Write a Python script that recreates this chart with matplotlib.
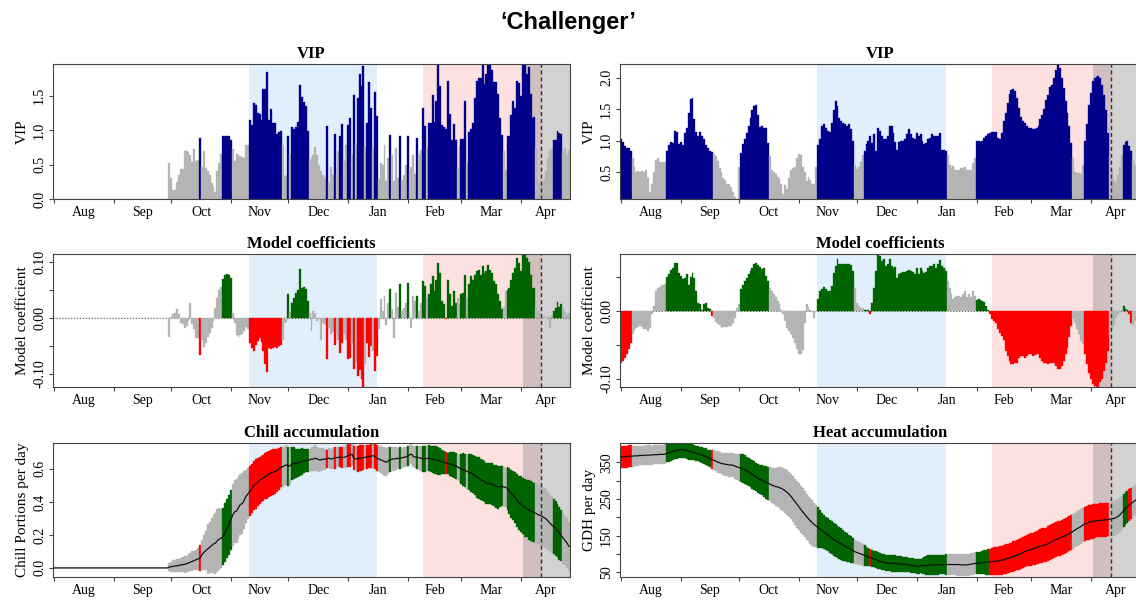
import numpy as np
import matplotlib
matplotlib.use("Agg")
import matplotlib.pyplot as plt

plt.rcParams["font.family"] = ["Liberation Serif", "DejaVu Serif"]

# Day 0 = 1 August, day 268 = 26 April
month_starts = [0, 31, 61, 92, 122, 153, 184, 212, 243]
month_names = ["Aug", "Sep", "Oct", "Nov", "Dec", "Jan", "Feb", "Mar", "Apr"]
last_day = 268

chill_phase = (101.5, 168.0)
heat_phase = (192.0, 253.3)
bloom_range = (244.0, 275.0)
mean_bloom = 253.3
vip_threshold = 0.8

# ---- chill model (left column); nothing before day 60 ----
vip_chill = [0.0] * 60 + [
    0.52, 0.30, 0.13, 0.13, 0.25, 0.35, 0.43, 0.43, 0.70, 0.70,
    0.68, 0.64, 0.54, 0.72, 0.55, 0.57, 0.89, 0.47, 0.69, 0.45,
    0.40, 0.35, 0.23, 0.18, 0.10, 0.40, 0.52, 0.65, 0.91, 0.92,
    0.92, 0.91, 0.85, 0.72, 0.55, 0.66, 0.64, 0.62, 0.61, 0.60,
    0.78, 0.78, 1.15, 1.08, 1.40, 1.37, 1.25, 1.24, 1.15, 1.59,
    1.60, 1.84, 1.15, 1.30, 1.10, 1.10, 0.95, 0.97, 0.98, 0.79,
    0.33, 0.35, 0.91, 0.66, 1.04, 1.02, 1.04, 1.12, 1.65, 1.48,
    1.41, 1.35, 0.98, 0.57, 0.60, 0.64, 0.76, 0.64, 0.50, 0.40,
    0.35, 0.30, 1.06, 0.25, 0.47, 0.35, 0.95, 0.37, 0.69, 0.92,
    1.09, 0.55, 0.79, 1.07, 1.17, 0.64, 1.51, 0.79, 1.47, 1.82,
    1.64, 1.93, 0.76, 1.10, 1.70, 1.32, 0.74, 1.55, 1.21, 0.29,
    0.52, 0.50, 0.78, 0.26, 0.59, 0.93, 0.64, 0.26, 0.74, 0.30,
    0.92, 0.28, 0.35, 0.50, 0.92, 0.39, 0.47, 0.64, 0.37, 0.88,
    0.66, 0.71, 1.32, 1.06, 0.74, 1.10, 1.10, 1.51, 1.12, 1.43,
    1.95, 1.64, 1.08, 1.04, 1.02, 1.71, 1.23, 0.86, 1.09, 0.85,
    0.45, 0.76, 0.87, 0.87, 1.43, 0.54, 0.97, 1.02, 1.10, 1.47,
    1.72, 1.75, 1.75, 1.94, 1.67, 1.81, 1.95, 1.95, 1.88, 1.70,
    1.70, 1.52, 1.17, 0.93, 0.69, 0.42, 0.92, 0.91, 1.22, 1.42,
    1.32, 1.72, 1.68, 1.49, 1.94, 1.95, 1.81, 1.91, 1.53, 1.17,
    1.19, 0.74, 0.25, 0.23, 0.23, 0.27, 0.40, 0.59, 0.69, 0.72,
    0.86, 0.85, 0.99, 0.96, 0.94, 0.69, 0.74, 0.64, 0.71,
]

coef_chill = [0.0] * 60 + [
    -0.035, 0.002, 0.006, 0.008, 0.015, 0.006, -0.009, -0.012, -0.018, -0.015,
    -0.005, 0.027, -0.012, -0.021, -0.036, -0.036, -0.067, -0.039, -0.052, -0.045,
    -0.035, -0.027, -0.018, -0.005, 0.018, 0.036, 0.050, 0.055, 0.070, 0.077,
    0.079, 0.076, 0.071, 0.008, -0.010, -0.031, -0.035, -0.031, -0.029, -0.024,
    -0.017, -0.020, -0.045, -0.054, -0.060, -0.048, -0.042, -0.037, -0.043, -0.060,
    -0.083, -0.098, -0.054, -0.056, -0.054, -0.052, -0.054, -0.051, -0.048, -0.040,
    -0.009, -0.007, 0.042, 0.010, 0.027, 0.036, 0.045, 0.049, 0.088, 0.054,
    0.055, 0.052, 0.030, 0.009, -0.024, 0.012, 0.009, -0.005, -0.003, -0.040,
    -0.009, -0.012, -0.073, -0.018, -0.030, -0.025, -0.048, -0.029, -0.039, -0.063,
    -0.045, -0.030, -0.040, -0.074, -0.072, -0.045, -0.091, -0.080, -0.104, -0.093,
    -0.110, -0.124, -0.083, -0.045, -0.071, -0.050, -0.060, -0.095, -0.069, -0.021,
    0.033, 0.012, 0.039, -0.013, 0.027, 0.051, 0.015, -0.036, 0.045, 0.020,
    0.061, 0.012, 0.018, 0.027, 0.063, 0.012, -0.018, 0.039, 0.030, 0.039,
    0.012, 0.027, 0.065, 0.057, 0.036, 0.043, 0.060, 0.074, 0.048, 0.068,
    0.098, 0.080, 0.030, 0.025, -0.003, 0.068, 0.042, 0.021, 0.048, 0.027,
    0.036, 0.024, 0.042, 0.045, 0.077, 0.036, 0.060, 0.074, 0.068, 0.077,
    0.083, 0.086, 0.077, 0.092, 0.080, 0.083, 0.095, 0.086, 0.080, 0.065,
    0.060, 0.042, 0.030, 0.015, 0.020, 0.048, 0.049, 0.054, 0.068, 0.080,
    0.089, 0.107, 0.098, 0.083, 0.112, 0.114, 0.107, 0.100, 0.077, 0.054,
    0.053, 0.019, 0.012, 0.009, 0.000, 0.003, -0.003, 0.002, -0.018, 0.004,
    0.012, 0.018, 0.028, 0.020, 0.025, 0.015, 0.010, 0.005, 0.008,
]

chill_mean = [0.0] * 60 + [
    0.005, 0.008, 0.010, 0.012, 0.013, 0.015, 0.018, 0.020, 0.022, 0.025,
    0.030, 0.035, 0.040, 0.045, 0.050, 0.055, 0.060, 0.080, 0.095, 0.105,
    0.115, 0.125, 0.135, 0.145, 0.150, 0.165, 0.175, 0.180, 0.190, 0.215,
    0.240, 0.260, 0.290, 0.320, 0.340, 0.345, 0.365, 0.385, 0.390, 0.410,
    0.435, 0.450, 0.465, 0.480, 0.500, 0.510, 0.520, 0.530, 0.540, 0.545,
    0.555, 0.560, 0.570, 0.575, 0.580, 0.585, 0.590, 0.600, 0.610, 0.612,
    0.620, 0.625, 0.615, 0.620, 0.630, 0.635, 0.632, 0.638, 0.640, 0.645,
    0.648, 0.650, 0.652, 0.655, 0.660, 0.660, 0.665, 0.660, 0.655, 0.655,
    0.660, 0.658, 0.662, 0.665, 0.660, 0.662, 0.665, 0.668, 0.670, 0.672,
    0.668, 0.670, 0.675, 0.680, 0.683, 0.690, 0.665, 0.660, 0.662, 0.665,
    0.665, 0.668, 0.670, 0.672, 0.675, 0.678, 0.680, 0.675, 0.665, 0.660,
    0.655, 0.650, 0.645, 0.640, 0.650, 0.655, 0.660, 0.660, 0.663, 0.663,
    0.665, 0.667, 0.670, 0.673, 0.678, 0.685, 0.690, 0.675, 0.672, 0.670,
    0.668, 0.665, 0.660, 0.662, 0.663, 0.665, 0.660, 0.658, 0.655, 0.655,
    0.650, 0.645, 0.642, 0.640, 0.635, 0.632, 0.630, 0.628, 0.622, 0.618,
    0.612, 0.605, 0.600, 0.595, 0.590, 0.585, 0.580, 0.575, 0.568, 0.560,
    0.550, 0.545, 0.535, 0.530, 0.525, 0.512, 0.510, 0.512, 0.508, 0.500,
    0.495, 0.490, 0.492, 0.495, 0.490, 0.490, 0.480, 0.465, 0.450, 0.440,
    0.425, 0.410, 0.395, 0.385, 0.375, 0.365, 0.360, 0.352, 0.345, 0.340,
    0.335, 0.330, 0.322, 0.318, 0.312, 0.305, 0.298, 0.285, 0.272, 0.260,
    0.250, 0.240, 0.225, 0.210, 0.195, 0.180, 0.165, 0.150, 0.130,
]

chill_sd = [0.0] * 60 + [
    0.025, 0.030, 0.035, 0.035, 0.040, 0.040, 0.045, 0.045, 0.050, 0.050,
    0.055, 0.055, 0.060, 0.060, 0.060, 0.065, 0.080, 0.090, 0.105, 0.120,
    0.150, 0.155, 0.165, 0.175, 0.185, 0.190, 0.190, 0.180, 0.175, 0.180,
    0.180, 0.180, 0.180, 0.190, 0.190, 0.195, 0.190, 0.185, 0.185, 0.175,
    0.160, 0.155, 0.150, 0.150, 0.150, 0.150, 0.145, 0.140, 0.140, 0.140,
    0.140, 0.140, 0.140, 0.140, 0.140, 0.135, 0.130, 0.125, 0.120, 0.120,
    0.120, 0.120, 0.118, 0.115, 0.100, 0.095, 0.090, 0.085, 0.080, 0.080,
    0.075, 0.070, 0.070, 0.068, 0.070, 0.075, 0.077, 0.075, 0.072, 0.070,
    0.068, 0.065, 0.055, 0.060, 0.062, 0.065, 0.068, 0.065, 0.060, 0.060,
    0.062, 0.065, 0.068, 0.070, 0.070, 0.065, 0.072, 0.075, 0.078, 0.080,
    0.080, 0.075, 0.072, 0.070, 0.070, 0.070, 0.072, 0.075, 0.078, 0.080,
    0.082, 0.085, 0.085, 0.085, 0.080, 0.075, 0.072, 0.070, 0.068, 0.065,
    0.065, 0.062, 0.060, 0.060, 0.060, 0.060, 0.062, 0.065, 0.068, 0.070,
    0.072, 0.075, 0.076, 0.078, 0.078, 0.080, 0.080, 0.082, 0.085, 0.085,
    0.085, 0.080, 0.075, 0.070, 0.065, 0.065, 0.070, 0.075, 0.078, 0.080,
    0.080, 0.085, 0.090, 0.100, 0.100, 0.105, 0.110, 0.115, 0.115, 0.120,
    0.125, 0.125, 0.125, 0.125, 0.125, 0.125, 0.125, 0.125, 0.125, 0.125,
    0.130, 0.130, 0.125, 0.120, 0.120, 0.118, 0.130, 0.140, 0.145, 0.150,
    0.155, 0.160, 0.165, 0.170, 0.170, 0.175, 0.175, 0.180, 0.180, 0.180,
    0.180, 0.180, 0.180, 0.180, 0.180, 0.180, 0.180, 0.175, 0.170, 0.170,
    0.165, 0.165, 0.160, 0.160, 0.155, 0.155, 0.150, 0.150, 0.150,
]

# ---- heat model (right column) ----
vip_heat = [
    1.02, 0.98, 0.91, 0.89, 0.88, 0.84, 0.72, 0.59, 0.51, 0.52,
    0.50, 0.52, 0.50, 0.54, 0.41, 0.19, 0.32, 0.50, 0.70, 0.73,
    0.67, 0.66, 0.66, 0.67, 0.83, 0.93, 0.98, 0.96, 1.16, 1.14,
    0.95, 0.98, 0.93, 1.12, 1.21, 1.44, 1.67, 1.68, 1.34, 1.14,
    1.08, 1.14, 1.07, 1.02, 0.94, 0.88, 0.84, 0.82, 0.79, 0.75,
    0.68, 0.56, 0.50, 0.40, 0.38, 0.32, 0.31, 0.26, 0.19, 0.10,
    0.074, 0.59, 0.81, 0.95, 1.02, 1.12, 1.23, 1.36, 1.49, 1.56,
    1.57, 1.41, 1.22, 1.23, 1.21, 1.20, 0.96, 0.75, 0.54, 0.51,
    0.47, 0.43, 0.39, 0.32, 0.16, 0.30, 0.24, 0.41, 0.54, 0.57,
    0.59, 0.73, 0.79, 0.78, 0.59, 0.51, 0.36, 0.43, 0.38, 0.32,
    0.32, 0.59, 0.94, 1.02, 1.23, 1.26, 1.21, 1.15, 1.14, 1.28,
    1.49, 1.63, 1.55, 1.36, 1.32, 1.28, 1.26, 1.23, 1.26, 1.18,
    1.00, 0.62, 0.55, 0.59, 0.66, 0.78, 0.84, 0.95, 1.00, 1.07,
    0.96, 1.10, 0.83, 1.20, 1.16, 1.07, 1.02, 1.03, 1.07, 1.23,
    1.24, 1.12, 0.98, 0.86, 0.98, 1.00, 1.00, 1.02, 1.11, 1.18,
    1.10, 1.04, 1.02, 1.12, 1.07, 1.11, 1.00, 0.95, 0.96, 1.02,
    1.04, 1.10, 1.07, 1.07, 1.07, 1.12, 0.86, 0.86, 0.84, 0.78,
    0.62, 0.57, 0.60, 0.54, 0.54, 0.54, 0.56, 0.56, 0.59, 0.54,
    0.54, 0.54, 0.64, 0.72, 1.00, 1.00, 0.98, 1.00, 1.04, 1.07,
    1.10, 1.12, 1.14, 1.14, 1.14, 1.05, 1.02, 1.12, 1.31, 1.44,
    1.60, 1.74, 1.81, 1.83, 1.79, 1.68, 1.52, 1.37, 1.32, 1.28,
    1.23, 1.21, 1.21, 1.19, 1.19, 1.21, 1.23, 1.35, 1.41, 1.50,
    1.65, 1.73, 1.85, 1.89, 2.00, 2.13, 2.21, 2.15, 2.00, 1.84,
    1.63, 1.44, 1.23, 0.96, 0.72, 0.50, 0.48, 0.48, 0.47, 0.62,
    0.99, 1.26, 1.57, 1.76, 1.95, 1.99, 2.01, 2.03, 2.00, 1.89,
    1.73, 1.49, 1.12, 0.75, 0.54, 0.38, 0.35, 0.46, 0.59, 0.78,
    0.93, 0.98, 1.00, 0.91, 0.83, 0.70, 0.62, 0.55, 0.50,
]

coef_heat = [
    -0.076, -0.073, -0.069, -0.064, -0.056, -0.047, -0.034, -0.028, -0.025, -0.024,
    -0.022, -0.024, -0.027, -0.026, -0.029, -0.025, -0.005, 0.007, 0.029, 0.034,
    0.036, 0.038, 0.039, 0.040, 0.050, 0.055, 0.061, 0.064, 0.071, 0.071,
    0.056, 0.051, 0.047, 0.049, 0.054, 0.039, 0.050, 0.056, 0.049, 0.029,
    0.012, 0.011, 0.002, 0.010, 0.012, 0.005, 0.003, -0.007, -0.010, -0.016,
    -0.019, -0.021, -0.025, -0.024, -0.023, -0.024, -0.022, -0.022, -0.018, -0.010,
    0.004, 0.010, 0.032, 0.039, 0.044, 0.049, 0.055, 0.059, 0.063, 0.069,
    0.071, 0.068, 0.065, 0.062, 0.063, 0.051, 0.044, 0.034, 0.030, 0.025,
    0.020, 0.015, 0.010, 0.002, -0.005, -0.015, -0.025, -0.030, -0.034, -0.040,
    -0.047, -0.056, -0.064, -0.064, -0.058, -0.017, 0.010, 0.006, 0.002, -0.002,
    -0.010, -0.002, 0.017, 0.029, 0.032, 0.035, 0.032, 0.029, 0.029, 0.037,
    0.056, 0.066, 0.076, 0.070, 0.069, 0.069, 0.069, 0.069, 0.069, 0.068,
    0.059, 0.034, 0.012, 0.008, 0.005, 0.005, 0.002, 0.002, 0.001, -0.004,
    0.012, 0.034, 0.059, 0.084, 0.081, 0.074, 0.076, 0.066, 0.069, 0.077,
    0.066, 0.064, 0.065, 0.049, 0.055, 0.056, 0.057, 0.058, 0.059, 0.061,
    0.059, 0.058, 0.054, 0.063, 0.055, 0.064, 0.059, 0.056, 0.058, 0.064,
    0.066, 0.066, 0.069, 0.064, 0.069, 0.075, 0.066, 0.063, 0.059, 0.044,
    0.034, 0.025, 0.017, 0.020, 0.022, 0.022, 0.020, 0.025, 0.030, 0.021,
    0.025, 0.020, 0.029, 0.022, 0.016, 0.017, 0.016, 0.015, 0.014, 0.007,
    0.001, -0.005, -0.012, -0.014, -0.017, -0.027, -0.032, -0.037, -0.042, -0.059,
    -0.066, -0.074, -0.078, -0.078, -0.076, -0.076, -0.069, -0.066, -0.066, -0.069,
    -0.066, -0.064, -0.064, -0.066, -0.065, -0.063, -0.064, -0.069, -0.074, -0.076,
    -0.077, -0.078, -0.076, -0.076, -0.076, -0.081, -0.086, -0.086, -0.081, -0.074,
    -0.064, -0.054, -0.039, -0.022, -0.012, -0.017, -0.027, -0.034, -0.044, -0.049,
    -0.064, -0.078, -0.091, -0.100, -0.108, -0.110, -0.112, -0.112, -0.105, -0.100,
    -0.088, -0.076, -0.059, -0.039, -0.027, -0.020, -0.010, -0.005, -0.002, 0.000,
    0.007, 0.003, 0.002, -0.005, -0.017, -0.020, -0.015, -0.013, -0.012,
]

heat_mean = [
    365, 365, 366, 366, 367, 367, 367, 368, 368, 368,
    369, 369, 369, 370, 370, 370, 370, 371, 371, 371,
    372, 372, 372, 373, 375, 377, 378, 380, 382, 383,
    384, 385, 385, 384, 383, 381, 380, 378, 377, 375,
    374, 372, 370, 368, 366, 363, 361, 358, 356, 354,
    351, 349, 347, 346, 345, 344, 343, 343, 342, 340,
    338, 336, 334, 333, 330, 327, 324, 321, 317, 314,
    310, 306, 303, 301, 298, 295, 293, 291, 288, 286,
    284, 283, 281, 279, 276, 272, 268, 263, 257, 250,
    243, 236, 229, 222, 215, 209, 202, 196, 190, 185,
    180, 176, 172, 168, 164, 160, 156, 152, 148, 144,
    140, 136, 133, 130, 127, 124, 121, 118, 115, 112,
    109, 106, 104, 102, 100, 98, 96, 94, 92, 90,
    88, 86, 84, 82, 80, 78, 77, 76, 75, 75,
    74, 74, 74, 73, 73, 72, 72, 71, 71, 70,
    69, 68, 67, 66, 66, 67, 68, 68, 68, 69,
    69, 70, 70, 70, 70, 71, 71, 71, 71, 71,
    71, 71, 71, 71, 71, 71, 70, 70, 70, 70,
    71, 72, 73, 74, 74, 75, 75, 76, 77, 77,
    78, 78, 79, 80, 80, 81, 82, 83, 84, 86,
    88, 89, 91, 93, 95, 97, 99, 101, 104, 107,
    109, 110, 112, 114, 116, 118, 119, 121, 123, 124,
    125, 128, 131, 134, 137, 139, 141, 143, 146, 148,
    150, 153, 156, 159, 162, 166, 169, 172, 175, 179,
    182, 184, 186, 188, 189, 190, 191, 191, 192, 192,
    193, 193, 194, 195, 196, 197, 199, 202, 206, 212,
    218, 224, 229, 234, 238, 242, 246, 250, 255,
]

heat_sd = [
    30, 30, 30, 30, 30, 30, 29, 28, 28, 28,
    27, 27, 27, 27, 27, 27, 26, 26, 26, 26,
    26, 26, 26, 26, 25, 25, 24, 24, 24, 24,
    23, 23, 23, 23, 24, 24, 23, 22, 21, 21,
    21, 21, 22, 22, 22, 22, 23, 25, 27, 28,
    29, 29, 30, 31, 32, 32, 32, 32, 33, 34,
    35, 36, 38, 39, 39, 39, 39, 39, 39, 39,
    39, 40, 40, 41, 43, 44, 45, 46, 48, 50,
    52, 54, 56, 58, 59, 60, 61, 62, 62, 63,
    63, 64, 64, 64, 64, 63, 63, 62, 62, 62,
    60, 58, 55, 52, 48, 46, 46, 45, 45, 45,
    45, 45, 44, 44, 44, 42, 40, 40, 38, 36,
    34, 33, 32, 31, 30, 30, 28, 26, 25, 24,
    23, 23, 23, 22, 22, 22, 22, 22, 22, 22,
    22, 22, 22, 21, 21, 21, 20, 20, 20, 20,
    20, 20, 20, 20, 20, 20, 22, 24, 26, 27,
    27, 27, 27, 27, 27, 27, 27, 27, 28, 28,
    28, 28, 29, 29, 30, 30, 30, 31, 31, 31,
    30, 30, 30, 30, 30, 31, 31, 32, 33, 34,
    35, 36, 37, 38, 38, 39, 39, 40, 40, 40,
    40, 40, 40, 41, 41, 42, 42, 42, 43, 43,
    43, 44, 44, 44, 45, 45, 46, 46, 47, 47,
    47, 47, 47, 48, 48, 48, 48, 48, 48, 48,
    48, 48, 48, 48, 48, 47, 47, 47, 47, 47,
    47, 47, 47, 47, 47, 46, 46, 46, 46, 46,
    46, 46, 46, 46, 46, 47, 47, 47, 46, 45,
    45, 45, 44, 43, 42, 42, 41, 40, 40,
]

W, H = 1136, 606
BLUE, GREY, GREEN, RED = "#00008b", "#b4b4b4", "#006400", "#ff0000"


def px_rect(left, top, right, bottom):
    return [left / W, 1 - bottom / H, (right - left) / W, (bottom - top) / H]


def sign_colors(vip, coef):
    vip, coef = np.asarray(vip), np.asarray(coef)
    signed = np.where(coef > 0, GREEN, RED)
    return np.where(vip >= vip_threshold, signed, GREY)


def shade(ax):
    ax.axvspan(*chill_phase, color="#e1effc", lw=0, zorder=0)
    ax.axvspan(*heat_phase, color="#fde1e1", lw=0, zorder=0)
    ax.axvspan(*bloom_range, color="#808080", alpha=0.35, lw=0, zorder=0.5)
    ax.axvline(mean_bloom, color="#333333", ls=(0, (3, 2)), lw=1.0, zorder=4)


def month_axis(ax):
    ax.set_xlim(-0.5, last_day + 0.5)
    ax.set_xticks(month_starts)
    ax.set_xticklabels([])
    ax.tick_params(axis="x", which="major", length=3, width=0.8, color="#444444")
    edges = month_starts + [last_day + 0.5]
    mids = [(a + b) / 2 for a, b in zip(edges[:-1], edges[1:])]
    ax.set_xticks(mids, minor=True)
    ax.set_xticklabels(month_names, minor=True, fontsize=10)
    ax.tick_params(axis="x", which="minor", length=0, pad=5)
    for s in ax.spines.values():
        s.set_color("#444444")
        s.set_linewidth(0.8)


def y_axis(ax, ylim, ticks, labels, ylabel):
    ax.set_ylim(*ylim)
    ax.set_yticks(ticks)
    ax.set_yticklabels(labels, rotation=90, va="center", fontsize=10)
    ax.tick_params(axis="y", length=3, width=0.8, pad=2, color="#444444")
    ax.set_ylabel(ylabel, fontsize=11, labelpad=3)


def day_bars(ax, days, height, colors, bottom=None):
    # one bar per day, edges drawn in the fill colour so neighbours touch
    ax.bar(days, height, bottom=bottom, width=1.0, color=colors,
           edgecolor=colors, lw=0.25, zorder=2)


def vip_panel(ax, vip):
    days = np.arange(len(vip))
    shade(ax)
    cols = np.where(np.asarray(vip) >= vip_threshold, BLUE, GREY)
    day_bars(ax, days, vip, cols)
    ax.set_title("VIP", fontsize=12, fontweight="bold", pad=4)
    month_axis(ax)


def coef_panel(ax, vip, coef):
    days = np.arange(len(coef))
    shade(ax)
    ax.axhline(0, color="#555555", lw=0.8, ls=":", zorder=1)
    day_bars(ax, days, coef, sign_colors(vip, coef))
    ax.set_title("Model coefficients", fontsize=12, fontweight="bold", pad=4)
    month_axis(ax)


def accum_panel(ax, vip, coef, mean, sd, title):
    days = np.arange(len(mean))
    mean, sd = np.asarray(mean, float), np.asarray(sd, float)
    shade(ax)
    day_bars(ax, days, 2 * sd, sign_colors(vip, coef), bottom=mean - sd)
    ax.plot(days, mean, color="#111111", lw=0.9, zorder=3)
    ax.set_title(title, fontsize=12, fontweight="bold", pad=4)
    month_axis(ax)


fig = plt.figure(figsize=(W / 100, H / 100), dpi=100)
fig.text(0.5, 1 - 22 / H, "\u2018Challenger\u2019", ha="center", va="center",
         fontsize=17, fontweight="bold", family=["Liberation Sans", "DejaVu Sans"])

left_x, right_x = (53, 570), (620, 1140)
rows = [(64, 199), (254, 387), (443, 577)]

# left column: chill
ax = fig.add_axes(px_rect(left_x[0], rows[0][0], left_x[1], rows[0][1]))
vip_panel(ax, vip_chill)
y_axis(ax, (0, 1.96), [0, 0.5, 1.0, 1.5], ["0.0", "0.5", "1.0", "1.5"], "VIP")

ax = fig.add_axes(px_rect(left_x[0], rows[1][0], left_x[1], rows[1][1]))
coef_panel(ax, vip_chill, coef_chill)
y_axis(ax, (-0.124, 0.114), [-0.10, -0.05, 0, 0.05, 0.10],
       ["-0.10", "", "0.00", "", "0.10"], "Model coefficient")

ax = fig.add_axes(px_rect(left_x[0], rows[2][0], left_x[1], rows[2][1]))
accum_panel(ax, vip_chill, coef_chill, chill_mean, chill_sd, "Chill accumulation")
y_axis(ax, (-0.055, 0.757), [0, 0.2, 0.4, 0.6], ["0.0", "0.2", "0.4", "0.6"],
       "Chill Portions per day")

# right column: heat
ax = fig.add_axes(px_rect(right_x[0], rows[0][0], right_x[1], rows[0][1]))
vip_panel(ax, vip_heat)
y_axis(ax, (0.074, 2.22), [0.5, 1.0, 1.5, 2.0], ["0.5", "1.0", "1.5", "2.0"], "VIP")

ax = fig.add_axes(px_rect(right_x[0], rows[1][0], right_x[1], rows[1][1]))
coef_panel(ax, vip_heat, coef_heat)
y_axis(ax, (-0.112, 0.084), [-0.10, -0.05, 0, 0.05],
       ["-0.10", "", "0.00", ""], "Model coefficient")

ax = fig.add_axes(px_rect(right_x[0], rows[2][0], right_x[1], rows[2][1]))
accum_panel(ax, vip_heat, coef_heat, heat_mean, heat_sd, "Heat accumulation")
y_axis(ax, (37, 403), [50, 100, 150, 200, 250, 300, 350],
       ["50", "", "150", "", "250", "", "350"], "GDH per day")

fig.savefig("out.png", dpi=100)
plt.close(fig)
